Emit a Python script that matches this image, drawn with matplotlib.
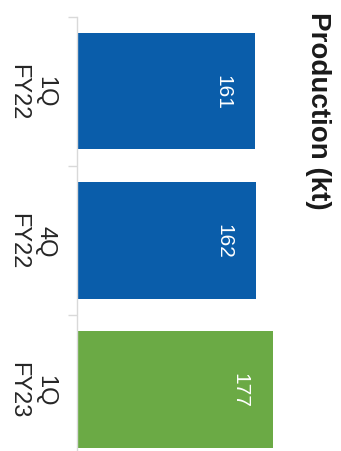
import matplotlib
matplotlib.use("Agg")
import matplotlib.pyplot as plt

plt.rcParams['font.family'] = ['Liberation Sans', 'DejaVu Sans']

# data
categories = ['1Q\nFY22', '4Q\nFY22', '1Q\nFY23']
production = [161, 162, 177]
bar_colors = ['#0A5DAA', '#0A5DAA', '#6BAA45']
title = 'Production (kt)'

W, H = 341, 452
fig = plt.figure(figsize=(W / 100, H / 100), dpi=100)

# axes placed in pixel terms (chart is rotated 90 deg clockwise)
ax_left, ax_top, ax_h = 77, 17.5, 447.75
ax = fig.add_axes([ax_left / W, 1 - (ax_top + ax_h) / H, (W - ax_left) / W, ax_h / H])

ypos = list(range(len(categories)))
ax.barh(ypos, production, height=0.78, color=bar_colors)
ax.set_ylim(len(categories) - 0.5, -0.5)
ax.set_xlim(0, (W - ax_left) / (178 / 161))

for sp in ['top', 'right', 'bottom']:
    ax.spines[sp].set_visible(False)
ax.spines['left'].set_color('#D9D9D9')
ax.spines['left'].set_linewidth(1.0)
ax.xaxis.set_visible(False)
ax.set_yticks([y - 0.5 for y in ypos])
ax.set_yticklabels([])
ax.tick_params(axis='y', length=6.5, color='#D9D9D9', width=1.0)

# category labels, rotated
for y, lab in zip(ypos, categories):
    ax.text(-0.172, y, lab, transform=ax.get_yaxis_transform(), rotation=-90,
            ha='center', va='center', fontsize=17, color='#262626',
            linespacing=1.3, multialignment='center')

# value labels inside bars
for y, v in zip(ypos, production):
    ax.annotate(str(v), xy=(v, y), xytext=(-16.5, 0), textcoords='offset points',
                rotation=-90, ha='right', va='center', fontsize=15, color='white')

fig.text(318 / W, 1 - 12 / H, title, rotation=-90, ha='center', va='top',
         fontsize=20, fontweight='bold', color='#1a1a1a')

fig.savefig('out.png', dpi=100)
